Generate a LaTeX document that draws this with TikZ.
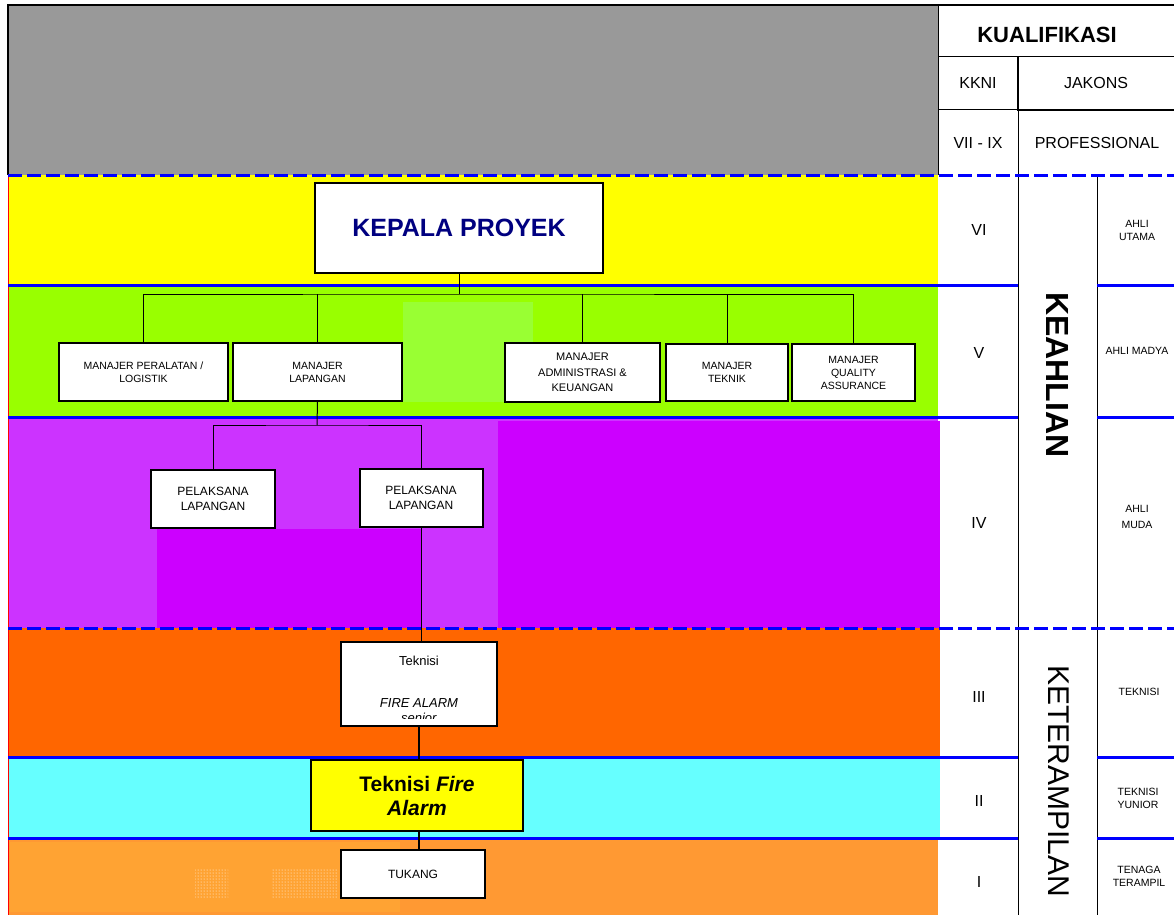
\documentclass[tikz,border=0pt]{standalone}
\usepackage{fontspec}
\setmainfont{Liberation Sans}
\usepackage{tikz}
\usetikzlibrary{patterns}
\definecolor{grayband}{HTML}{999999}
\definecolor{yellowband}{HTML}{FFFF00}
\definecolor{greenband}{HTML}{99FF00}
\definecolor{greenpatch}{HTML}{99FF33}
\definecolor{purplelight}{HTML}{CC33FF}
\definecolor{purpledark}{HTML}{CC00FF}
\definecolor{orangeband}{HTML}{FF6600}
\definecolor{cyanband}{HTML}{66FFFF}
\definecolor{tanband}{HTML}{FF9933}
\definecolor{tanpatch}{HTML}{FFA333}
\definecolor{navytext}{HTML}{000080}
\tikzstyle{box}=[rectangle,draw=black,fill=white,line width=1.2,inner sep=0mm,align=center,font=\fontsize{10.5}{13}\selectfont]
\tikzstyle{boxthick}=[box,line width=2,font=\fontsize{12}{15}\selectfont]
\tikzstyle{cell}=[inner sep=0mm,align=center,font=\fontsize{16}{19}\selectfont]
\tikzstyle{tag}=[inner sep=0mm,align=center,font=\fontsize{10.5}{13}\selectfont]
\tikzstyle{tree}=[draw=black,line width=1]
\tikzstyle{treebold}=[draw=black,line width=2]
\tikzstyle{blueline}=[draw=blue,line width=3]
\tikzstyle{bluedash}=[draw=blue,line width=3,dash pattern=on 14pt off 5pt]
\tikzset{every picture/.style={
    line width=1
  }
}
\begin{document}
\begin{tikzpicture}[x=1pt,y=-1pt]
      \useasboundingbox (0,0) rectangle (1174,915);
      \fill[white] (0,0) rectangle (1174,915);
      \fill[grayband] (8,5) rectangle (938,175);
      \fill[yellowband] (8,175) rectangle (938,285);
      \fill[greenband] (8,285) rectangle (938,417);
      \fill[greenpatch] (403,302) rectangle (533,402);
      \fill[purplelight] (8,417) rectangle (938,628);
      \fill[purpledark] (157,529) rectangle (421,628);
      \fill[purpledark] (498,421) rectangle (940,628);
      \fill[orangeband] (8,628) rectangle (940,757);
      \fill[cyanband] (8,757) rectangle (940,838);
      \fill[tanband] (8,838) rectangle (938,915);
      \fill[tanpatch] (10,842) rectangle (400,912);
      \fill[pattern=dots,pattern color=white] (195,868) rectangle (228,898);
      \fill[pattern=dots,pattern color=white] (272,868) rectangle (338,898);
      \draw[red] (8,175) -- (8,915);
      \draw[line width=2.5] (8,175) -- (8,5) -- (1174,5);
      \draw (938,5) -- (938,175);
      \draw (938,57) -- (1174,57);
      \draw (938,110) -- (1018,110);
      \draw[line width=2] (1174,110) -- (1018,110) -- (1018,57);
      \draw (1018,110) -- (1018,915);
      \draw (1097,175) -- (1097,915);
      \foreach \y in {285,417,757,838} {
        \draw[blueline] (8,\y) -- (1018,\y);
        \draw[blueline] (1097,\y) -- (1174,\y);
      }
      \foreach \y in {175,628}
        \draw[bluedash] (8,\y) -- (1174,\y);

      \node[cell,font=\bfseries\fontsize{22}{26}\selectfont] at (1047,35) (kual) {KUALIFIKASI};
      \node[cell] at (978,83) (kkni) {KKNI};
      \node[cell] at (1096,83) (jakons) {JAKONS};
      \node[cell] at (978,143) (kkntop) {VII - IX};
      \node[cell] at (1097,143) (prof) {PROFESSIONAL};
      \foreach \y/\lv in {230/VI,353/V,523/IV,697/III,801/II,882/I}
        \node[cell] at (979,\y) (kkni\lv) {\lv};
      \node[tag] at (1137,230) (jkutama) {AHLI\\UTAMA};
      \node[tag] at (1137,351) (jkmadya) {AHLI MADYA};
      \node[tag,font=\fontsize{10.5}{16}\selectfont] at (1137,517) (jkmuda) {AHLI\\MUDA};
      \node[tag] at (1139,692) (jktek) {TEKNISI};
      \node[tag] at (1138,798) (jkyun) {TEKNISI\\YUNIOR};
      \node[tag] at (1139,876) (jktng) {TENAGA\\TERAMPIL};
      \node[cell,rotate=-90,font=\bfseries\fontsize{32}{36}\selectfont] at (1057,375) (keahlian) {KEAHLIAN};
      \node[cell,rotate=-90,font=\fontsize{30}{34}\selectfont] at (1059,781) (keterampilan) {KETERAMPILAN};

      \node[box,minimum width=288,minimum height=90,text=navytext,font=\bfseries\fontsize{25}{30}\selectfont] at (459,228) (kp) {KEPALA PROYEK};
      \node[box,minimum width=169,minimum height=58] at (143.5,372) (mpl) {MANAJER PERALATAN /\\LOGISTIK};
      \node[box,minimum width=169,minimum height=58] at (317.5,372) (mlap) {MANAJER\\LAPANGAN};
      \node[box,minimum width=155,minimum height=59,font=\fontsize{11}{15.5}\selectfont] at (582.5,372.5) (madm) {MANAJER\\ADMINISTRASI \&\\KEUANGAN};
      \node[box,minimum width=122,minimum height=57] at (727,372.5) (mtek) {MANAJER\\TEKNIK};
      \node[box,minimum width=123,minimum height=57] at (853.5,372.5) (mqa) {MANAJER\\QUALITY\\ASSURANCE};
      \coordinate (bus) at (459,294);
      \draw[tree] (kp.south) -- (bus);
      \draw[tree] (mpl.north) |- (bus) -| (mqa.north);
      \draw[tree] (mlap.north) -- (mlap.north |- bus);
      \draw[tree] (madm.north) -- (madm.north |- bus);
      \draw[tree] (mtek.north) -- (mtek.north |- bus);

      \node[boxthick,minimum width=124,minimum height=58] at (213,499) (pel1) {PELAKSANA\\LAPANGAN};
      \node[boxthick,minimum width=123,minimum height=58] at (421,498) (pel2) {PELAKSANA\\LAPANGAN};
      \coordinate (split) at (317,425);
      \draw[tree] (mlap.south) -- (split);
      \draw[tree] (pel1.north) |- (split) -| (pel2.north);

      \node[box,line width=2,minimum width=156,minimum height=84] at (419,684) (teksr) {};
      \begin{scope}
        \clip (342,643) rectangle (496,718);
        \node[tag,anchor=north,font=\fontsize{13}{15}\selectfont] at (419,655.5) (teksrtxt) {Teknisi\\[27pt]\textit{FIRE ALARM}\\\textit{senior}};
      \end{scope}
      \node[box,fill=yellowband,line width=2.5,minimum width=212,minimum height=71,font=\bfseries\fontsize{21}{24}\selectfont] at (417,795.5) (tekfa) {Teknisi \textit{Fire}\\\textit{Alarm}};
      \node[boxthick,minimum width=144,minimum height=48] at (413,874) (tuk) {TUKANG};
      \draw[tree] (pel2.south) -- (pel2.south |- teksr.north);
      \draw[treebold] (teksr.south) -- (teksr.south |- tekfa.north);
      \draw[treebold] (teksr.south |- tekfa.south) -- (teksr.south |- tuk.north);
\end{tikzpicture}
\end{document}
